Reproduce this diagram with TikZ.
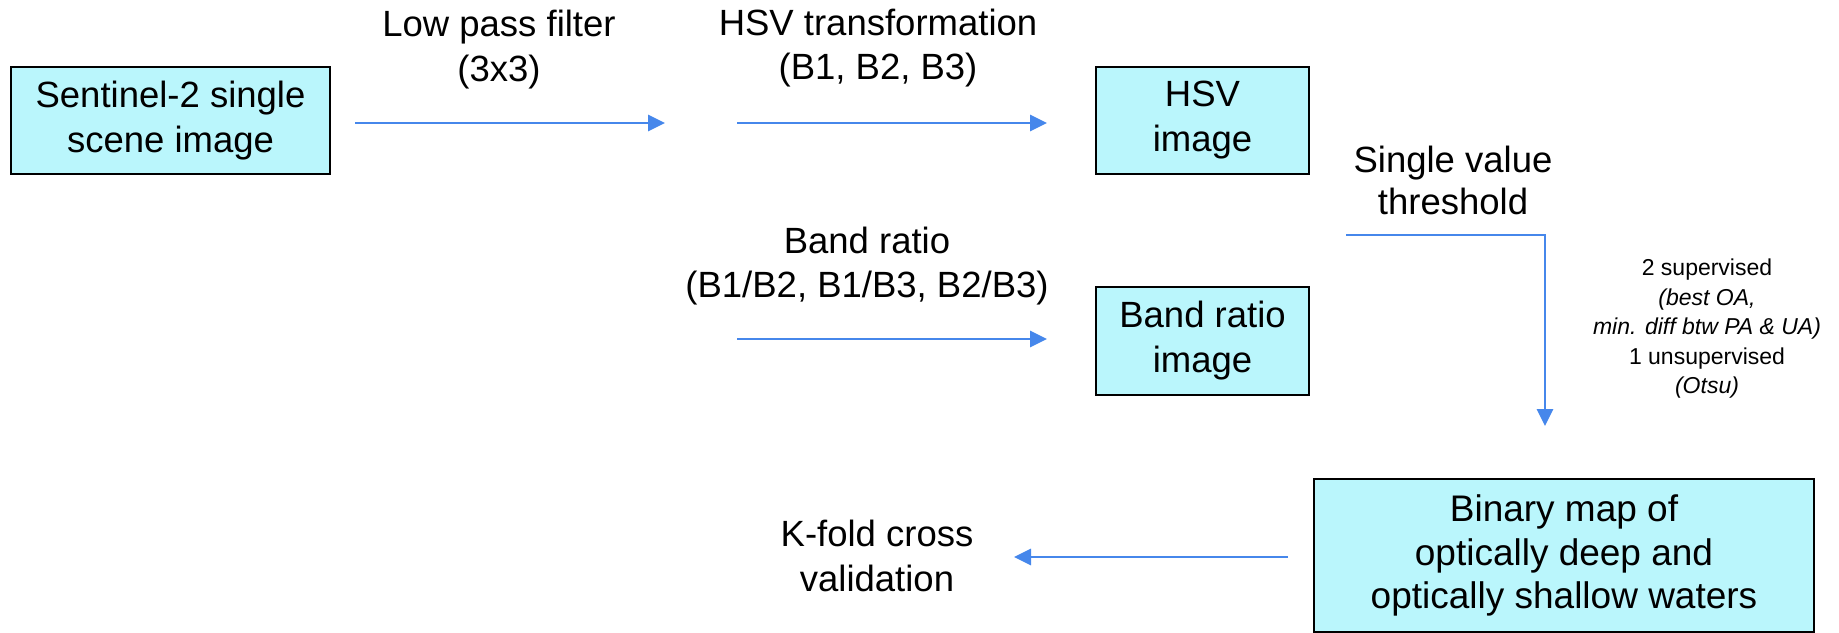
\documentclass[tikz,border=0pt]{standalone}
\usepackage{fontspec}
\setmainfont{Liberation Sans}
\usetikzlibrary{arrows.meta}
\definecolor{flowblue}{RGB}{70,135,235}
\definecolor{boxcyan}{RGB}{186,246,252}

\begin{document}
\begin{tikzpicture}[x=1pt,y=-1pt,
  procbox/.style={draw=black,line width=2pt,fill=boxcyan,align=center,inner sep=0pt,
    font=\fontsize{36.5}{45}\selectfont},
  lbl/.style={align=center,inner sep=0pt,font=\fontsize{36.5}{44.5}\selectfont},
  note/.style={align=center,inner sep=0pt,font=\fontsize{23}{29.5}\selectfont},
  flow/.style={draw=flowblue,line width=2.8pt,-{Triangle[length=17pt,width=16pt]}},
]
\useasboundingbox (0,0) rectangle (1839,632);

% process boxes
\node[procbox,minimum width=319pt,minimum height=107pt]
  (scene) at (170.5,120.5) {Sentinel-2 single\\scene image};
\node[procbox,minimum width=213pt,minimum height=107pt]
  (hsv) at (1202.5,120.5) {HSV\\image};
\node[procbox,minimum width=213pt,minimum height=108pt]
  (ratio) at (1202.5,341) {Band ratio\\image};
\node[procbox,minimum width=500pt,minimum height=153pt,font=\fontsize{37}{43.5}\selectfont]
  (binary) at (1564,555.5) {Binary map of\\optically deep and\\optically shallow waters};

% step labels
\node[lbl] (lowpass) at (499,49.5) {Low pass filter\\(3x3)};
\node[lbl] (hsvlbl) at (878,48) {HSV transformation\\(B1, B2, B3)};
\node[lbl] (ratiolbl) at (867,266) {Band ratio\\(B1/B2, B1/B3, B2/B3)};
\node[lbl,font=\fontsize{36.5}{42}\selectfont] (thrlbl) at (1453,180.5) {Single value\\threshold};
\node[lbl] (kfold) at (877,556) {K-fold cross\\validation};
\node[note] (methods) at (1707,329)
  {2 supervised\\{\itshape (best OA,}\\{\itshape min. diff btw PA \& UA)}\\1 unsupervised\\{\itshape (Otsu)}};

% arrow end points
\coordinate (a1s) at (355,123);
\coordinate (a1e) at (665,123);
\coordinate (a2s) at (737,123);
\coordinate (a2e) at (1047,123);
\coordinate (a3s) at (737,339);
\coordinate (a3e) at (1047,339);
\coordinate (a4s) at (1346,235);
\coordinate (a4c) at (1545,235);
\coordinate (a4e) at (1545,426);
\coordinate (a5s) at (1288,557);
\coordinate (a5e) at (1014,557);

% flow arrows
\draw[flow] (a1s) -- (a1e);
\draw[flow] (a2s) -- (a2e);
\draw[flow] (a3s) -- (a3e);
\draw[flow] (a4s) -- (a4c) -- (a4e);
\draw[flow] (a5s) -- (a5e);
\end{tikzpicture}
\end{document}
